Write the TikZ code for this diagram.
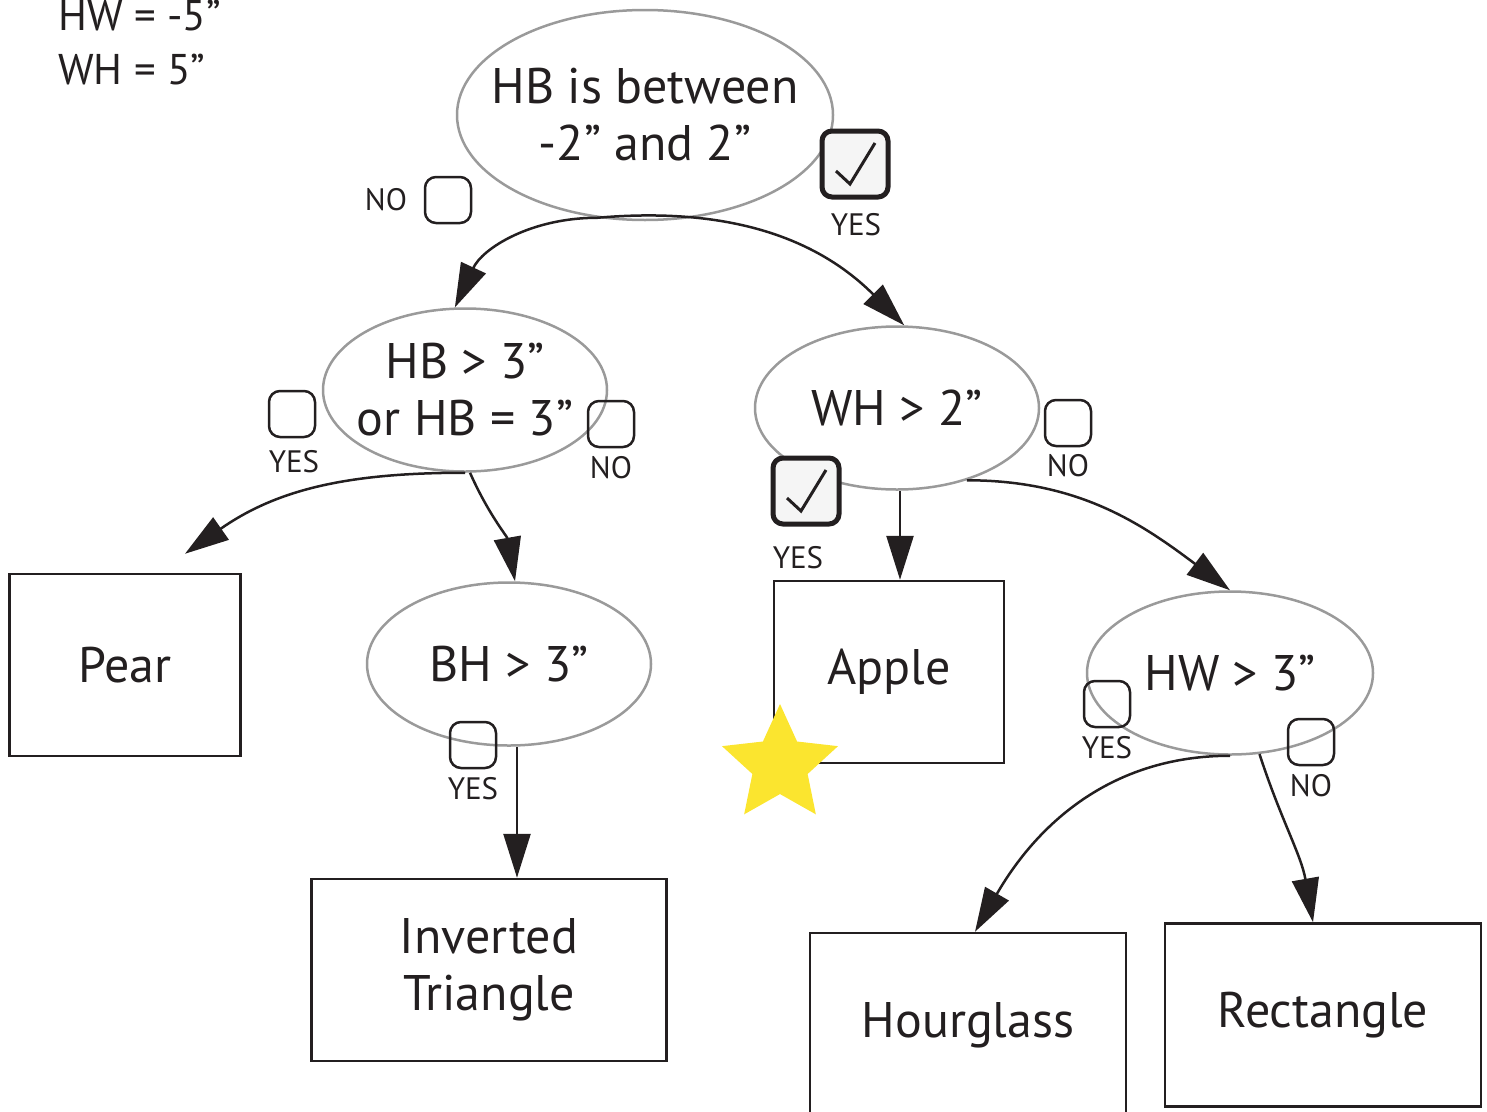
\documentclass[tikz,border=0pt]{standalone}
\usepackage{fontspec}
\setmainfont{PT Sans}
\usetikzlibrary{shapes.geometric,arrows.meta}
\definecolor{ink}{HTML}{231F20}
\definecolor{rim}{HTML}{9A9A9A}
\definecolor{starfill}{HTML}{FBE52F}
\tikzset{
  test/.style={ellipse,draw=rim,line width=2.5pt,minimum width=284pt,minimum height=163pt,inner sep=0pt},
  says/.style={text=ink,align=center,inner sep=0pt,font=\fontsize{50}{57}\selectfont},
  leaf/.style={rectangle,draw=ink,line width=2.5pt,minimum height=182pt,inner sep=0pt,says},
  tick/.style={rectangle,rounded corners=11pt,draw=ink,line width=2.5pt,minimum size=46pt,inner sep=0pt},
  ticked/.style={rectangle,rounded corners=10pt,draw=ink,line width=5pt,fill=gray!8,minimum size=66pt,inner sep=0pt,
    path picture={\draw[ink,line width=3pt,sharp corners]
      ([shift={(-19pt,-7pt)}]path picture bounding box.center) -- ++(14pt,-13pt) -- ++(25pt,41pt);}},
  lbl/.style={text=ink,inner sep=0pt,font=\fontsize{31}{36}\selectfont},
  note/.style={text=ink,inner sep=0pt,font=\fontsize{43}{50}\selectfont},
  prize/.style={star,star points=5,star point ratio=2.1,fill=starfill,minimum size=122pt,inner sep=0pt},
  arr/.style={-{Triangle[length=44pt,width=27pt]},draw=ink,line width=2.5pt}
}
\begin{document}
\begin{tikzpicture}[x=1pt,y=-1pt]
  \useasboundingbox (0,0) rectangle (1487,1111);
  % given values
  \node[note,anchor=base west] (hwval) at (58,30) {HW = -5”};
  \node[note,anchor=base west] (whval) at (58,84) {WH = 5”};

  % tests
  \node[test,minimum width=376pt,minimum height=210pt,
    label={[says]center:HB is between\\-2” and 2”}] (root) at (645,115) {};
  \node[test,label={[says]center:HB > 3”\\or HB = 3”}] (hbl) at (465,390) {};
  \node[test,label={[says]center:WH > 2”}] (wh) at (897,408) {};
  \node[test,label={[says]center:BH > 3”}] (bh) at (509,664) {};
  \node[test,minimum width=286pt,label={[says]center:HW > 3”}] (hw) at (1230,673) {};

  % outcomes
  \node[leaf,minimum width=231pt] (pear) at (125,665) {Pear};
  \node[leaf,minimum width=355pt] (inv) at (489,970) {Inverted\\Triangle};
  \node[leaf,minimum width=230pt] (apple) at (889,672) {Apple};
  \node[leaf,minimum width=316pt,minimum height=184pt] (hg) at (968,1025) {Hourglass};
  \node[leaf,minimum width=316pt,minimum height=183pt] (rect) at (1323,1015) {Rectangle};
  \node[prize] (best) at (780,765) {};

  % answers
  \node[lbl] (rootnotxt) at (386,200) {NO};
  \node[tick] (rootno) at (448,200) {};
  \node[ticked] (rootyes) at (855,164) {};
  \node[lbl] (rootyestxt) at (856,225) {YES};
  \node[tick] (hblyes) at (292,414) {};
  \node[lbl] (hblyestxt) at (294,462) {YES};
  \node[tick] (hblno) at (611,424) {};
  \node[lbl] (hblnotxt) at (611,468) {NO};
  \node[tick] (whno) at (1068,423) {};
  \node[lbl] (whnotxt) at (1068,466) {NO};
  \node[ticked] (whyes) at (806,491) {};
  \node[lbl] (whyestxt) at (798,558) {YES};
  \node[tick] (bhyes) at (473,745) {};
  \node[lbl] (bhyestxt) at (473,789) {YES};
  \node[tick] (hwyes) at (1107,704) {};
  \node[lbl] (hwyestxt) at (1107,748) {YES};
  \node[tick] (hwno) at (1311,742) {};
  \node[lbl] (hwnotxt) at (1311,786) {NO};

  \begin{scope}[arr]
    \draw (root.245) to[out=180,in=65] (hbl.97);
    \draw (root.245) to[out=5,in=135] (wh.85);
    \draw (hbl.south) to[out=180,in=35] ([shift={(60pt,19pt)}]pear.north);
    \draw ([xshift=5pt]hbl.south) to[out=-66,in=100] ([xshift=6pt]bh.north);
    \draw ([xshift=8pt]bh.south) -- ([xshift=8pt]bh.south |- inv.north);
    \draw ([xshift=3pt]wh.south) -- ([xshift=3pt]wh.south |- apple.north);
    \draw (wh.-46) to[out=0,in=143] (hw.north);
    \draw (hw.south) to[out=180,in=60] ([xshift=7pt]hg.north);
    \draw (hw.-70) to[out=-72,in=100] ([xshift=-10pt]rect.north);
  \end{scope}
\end{tikzpicture}
\end{document}
